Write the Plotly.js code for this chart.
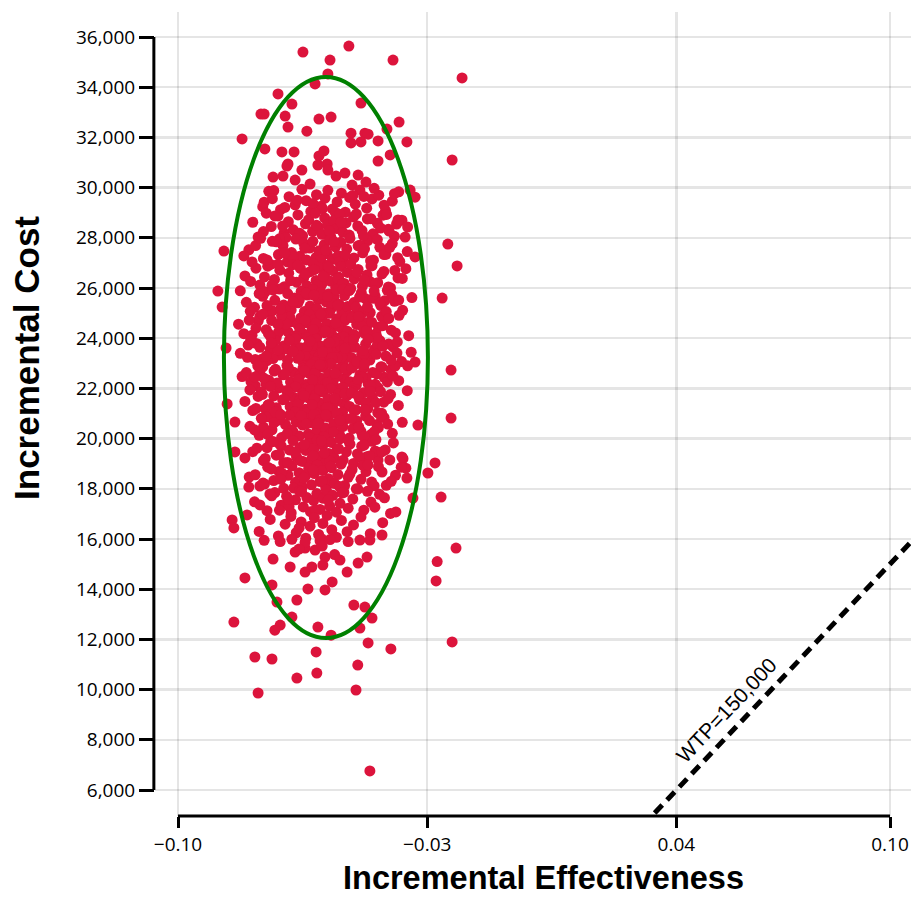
<!DOCTYPE html>
<html>
<head>
<meta charset="utf-8">
<script src="https://cdn.plot.ly/plotly-3.0.1.min.js"></script>
<style>html,body{margin:0;padding:0;background:#fff;}</style>
</head>
<body>
<div id="chart" style="width:911px;height:898px;"></div>
<script>
// ---------- axis ticks ----------
const xTickVals = [-0.10, -0.03, 0.04, 0.10];
const yTickVals = [6000, 8000, 10000, 12000, 14000, 16000, 18000, 20000, 22000, 24000, 26000, 28000, 30000, 32000, 34000, 36000];
const xTitle = 'Incremental Effectiveness';
const yTitle = 'Incremental Cost';

// ---------- willingness-to-pay line ----------
const wtp = 150000;
const wtpLabel = 'WTP=150,000';
const wtpEffect = [0.02, 0.12];

// ---------- confidence ellipse bounds ----------
const ellipseEffect = [-0.0871, -0.0298];
const ellipseCost = [12056, 34406];

// ---------- simulated ICER pairs ----------
// upper tail (cost >= ~29,600)
const effectUpper = [
-0.0520,-0.0649,-0.0573,-0.0396,-0.0579,-0.0202,-0.0615,-0.0719,-0.0486,-0.0680,
-0.0767,-0.0758,-0.0699,-0.0604,-0.0570,-0.0691,-0.0379,-0.0638,-0.0514,-0.0475,
-0.0466,-0.0413,-0.0820,-0.0357,-0.0438,-0.0514,-0.0486,-0.0756,-0.0708,-0.0674,
-0.0604,-0.0590,-0.0404,-0.0438,-0.0230,-0.0691,-0.0581,-0.0694,-0.0733,-0.0705,
-0.0671,-0.0607,-0.0579,-0.0556,-0.0531,-0.0494,-0.0472,-0.0652,-0.0629,-0.0511,
-0.0348,-0.0334];
const costUpper = [
35640,35400,35080,35080,34530,34370,34130,33730,33370,33330,
32930,32930,32850,32730,32810,32410,32610,32250,32170,32170,
32130,32330,31940,31820,31860,31780,31820,31540,31420,31420,
31260,31460,31300,31060,31100,30940,30940,30860,30420,30460,
30300,30900,30700,30460,30580,30500,30220,30700,30140,30100,
29900,29620];

// dense core, by cost band
const effectCore = [
// 29-30k
-0.0745,-0.0712,-0.0688,-0.0671,-0.0652,-0.0640,-0.0627,-0.0611,-0.0598,-0.0587,
-0.0579,-0.0566,-0.0553,-0.0541,-0.0530,-0.0518,-0.0502,-0.0489,-0.0470,-0.0455,
-0.0436,-0.0417,-0.0398,-0.0380,-0.0762,-0.0621,-0.0558,-0.0509,-0.0665,-0.0594,
// 28-29k
-0.0775,-0.0738,-0.0719,-0.0702,-0.0690,-0.0676,-0.0663,-0.0650,-0.0642,-0.0633,
-0.0622,-0.0614,-0.0605,-0.0596,-0.0588,-0.0580,-0.0571,-0.0563,-0.0554,-0.0546,
-0.0537,-0.0528,-0.0519,-0.0507,-0.0495,-0.0483,-0.0468,-0.0452,-0.0440,-0.0424,
-0.0409,-0.0392,-0.0371,-0.0355,-0.0697,-0.0611,-0.0575,-0.0542,-0.0499,-0.0658,
// 27-28k
-0.0801,-0.0760,-0.0735,-0.0718,-0.0705,-0.0693,-0.0681,-0.0669,-0.0658,-0.0647,
-0.0639,-0.0630,-0.0621,-0.0612,-0.0604,-0.0596,-0.0589,-0.0581,-0.0573,-0.0566,
-0.0558,-0.0550,-0.0543,-0.0535,-0.0526,-0.0517,-0.0506,-0.0494,-0.0481,-0.0467,
-0.0451,-0.0433,-0.0416,-0.0398,-0.0377,-0.0356,-0.0715,-0.0644,-0.0600,-0.0562,
-0.0531,-0.0489,-0.0677,-0.0585,-0.0547,
// 26-27k
-0.0812,-0.0770,-0.0748,-0.0729,-0.0714,-0.0701,-0.0689,-0.0678,-0.0667,-0.0656,
-0.0647,-0.0638,-0.0629,-0.0620,-0.0612,-0.0604,-0.0596,-0.0588,-0.0580,-0.0572,
-0.0565,-0.0557,-0.0549,-0.0541,-0.0533,-0.0524,-0.0515,-0.0505,-0.0494,-0.0482,
-0.0469,-0.0455,-0.0439,-0.0422,-0.0403,-0.0382,-0.0360,-0.0740,-0.0684,-0.0641,
-0.0608,-0.0577,-0.0551,-0.0527,-0.0498,-0.0460,-0.0663,-0.0592,-0.0538,-0.0617,
// 25-26k
-0.0825,-0.0785,-0.0762,-0.0744,-0.0728,-0.0715,-0.0703,-0.0692,-0.0682,-0.0672,
-0.0663,-0.0654,-0.0645,-0.0637,-0.0629,-0.0621,-0.0613,-0.0606,-0.0598,-0.0591,
-0.0584,-0.0577,-0.0569,-0.0562,-0.0555,-0.0547,-0.0540,-0.0532,-0.0524,-0.0515,
-0.0506,-0.0496,-0.0485,-0.0473,-0.0460,-0.0446,-0.0430,-0.0412,-0.0392,-0.0369,
-0.0343,-0.0755,-0.0698,-0.0659,-0.0626,-0.0595,-0.0566,-0.0536,-0.0501,-0.0452,
-0.0735,-0.0677,-0.0640,-0.0609,-0.0580,-0.0551,-0.0519,-0.0479,-0.0420,-0.0618,
// 24-25k
-0.0830,-0.0792,-0.0770,-0.0752,-0.0737,-0.0724,-0.0712,-0.0701,-0.0691,-0.0681,
-0.0672,-0.0663,-0.0655,-0.0647,-0.0639,-0.0631,-0.0624,-0.0617,-0.0610,-0.0603,
-0.0596,-0.0589,-0.0582,-0.0575,-0.0568,-0.0561,-0.0554,-0.0547,-0.0540,-0.0532,
-0.0524,-0.0516,-0.0507,-0.0498,-0.0488,-0.0477,-0.0465,-0.0452,-0.0437,-0.0420,
-0.0401,-0.0379,-0.0352,-0.0775,-0.0718,-0.0686,-0.0658,-0.0634,-0.0612,-0.0592,
-0.0571,-0.0550,-0.0528,-0.0503,-0.0471,-0.0428,-0.0746,-0.0696,-0.0667,-0.0643,
-0.0620,-0.0599,-0.0578,-0.0557,-0.0535,-0.0511,-0.0482,-0.0444,-0.0709,-0.0586,
// 23-24k
-0.0865,-0.0805,-0.0778,-0.0758,-0.0741,-0.0727,-0.0714,-0.0703,-0.0692,-0.0682,
-0.0673,-0.0664,-0.0656,-0.0648,-0.0640,-0.0633,-0.0626,-0.0619,-0.0612,-0.0605,
-0.0598,-0.0591,-0.0585,-0.0578,-0.0571,-0.0564,-0.0557,-0.0550,-0.0543,-0.0536,
-0.0528,-0.0520,-0.0512,-0.0503,-0.0494,-0.0484,-0.0473,-0.0461,-0.0448,-0.0433,
-0.0416,-0.0396,-0.0372,-0.0345,-0.0788,-0.0733,-0.0697,-0.0669,-0.0644,-0.0622,
-0.0601,-0.0581,-0.0561,-0.0540,-0.0517,-0.0489,-0.0455,-0.0408,-0.0765,-0.0719,
-0.0687,-0.0660,-0.0636,-0.0614,-0.0594,-0.0574,-0.0553,-0.0531,-0.0507,-0.0478,
-0.0440,-0.0750,-0.0677,-0.0629,-0.0567,
// 22-23k
-0.0820,-0.0783,-0.0762,-0.0745,-0.0730,-0.0717,-0.0705,-0.0694,-0.0684,-0.0675,
-0.0666,-0.0657,-0.0649,-0.0641,-0.0633,-0.0626,-0.0619,-0.0612,-0.0605,-0.0598,
-0.0591,-0.0584,-0.0577,-0.0570,-0.0563,-0.0556,-0.0549,-0.0541,-0.0533,-0.0525,
-0.0517,-0.0508,-0.0499,-0.0489,-0.0478,-0.0466,-0.0453,-0.0438,-0.0421,-0.0402,
-0.0380,-0.0355,-0.0233,-0.0770,-0.0722,-0.0690,-0.0662,-0.0638,-0.0616,-0.0595,
-0.0574,-0.0553,-0.0530,-0.0504,-0.0472,-0.0430,-0.0753,-0.0700,-0.0670,-0.0645,
-0.0622,-0.0601,-0.0580,-0.0559,-0.0537,-0.0512,-0.0483,-0.0446,-0.0390,-0.0795,
// 21-22k
-0.0862,-0.0790,-0.0766,-0.0747,-0.0731,-0.0718,-0.0706,-0.0695,-0.0685,-0.0676,
-0.0667,-0.0658,-0.0650,-0.0642,-0.0634,-0.0627,-0.0620,-0.0613,-0.0606,-0.0599,
-0.0592,-0.0585,-0.0578,-0.0571,-0.0564,-0.0557,-0.0550,-0.0542,-0.0534,-0.0526,
-0.0518,-0.0509,-0.0500,-0.0490,-0.0479,-0.0467,-0.0454,-0.0439,-0.0422,-0.0403,
-0.0381,-0.0356,-0.0775,-0.0724,-0.0691,-0.0663,-0.0639,-0.0617,-0.0596,-0.0575,
-0.0554,-0.0531,-0.0505,-0.0473,-0.0431,-0.0755,-0.0701,-0.0671,-0.0646,-0.0623,
-0.0602,-0.0581,-0.0560,-0.0538,-0.0513,
// 20-21k
-0.0798,-0.0772,-0.0752,-0.0736,-0.0722,-0.0709,-0.0698,-0.0687,-0.0677,-0.0668,
-0.0659,-0.0650,-0.0642,-0.0634,-0.0626,-0.0618,-0.0610,-0.0602,-0.0594,-0.0586,
-0.0578,-0.0570,-0.0562,-0.0554,-0.0546,-0.0537,-0.0528,-0.0519,-0.0509,-0.0498,
-0.0486,-0.0473,-0.0458,-0.0441,-0.0421,-0.0398,-0.0370,-0.0233,-0.0760,-0.0714,
-0.0681,-0.0654,-0.0630,-0.0607,-0.0585,-0.0563,-0.0540,-0.0514,-0.0482,-0.0437,
-0.0745,-0.0693,-0.0640,-0.0590,-0.0545,
// 19-20k
-0.0790,-0.0760,-0.0740,-0.0724,-0.0710,-0.0698,-0.0687,-0.0677,-0.0667,-0.0658,
-0.0649,-0.0641,-0.0633,-0.0625,-0.0617,-0.0609,-0.0601,-0.0593,-0.0585,-0.0577,
-0.0569,-0.0561,-0.0553,-0.0545,-0.0536,-0.0527,-0.0517,-0.0507,-0.0496,-0.0484,
-0.0470,-0.0455,-0.0438,-0.0418,-0.0395,-0.0368,-0.0750,-0.0703,-0.0671,-0.0645,
-0.0621,-0.0597,-0.0573,-0.0549,-0.0522,-0.0490,-0.0446,-0.0715,-0.0655,-0.0589,
// 18-19k
-0.0800,-0.0770,-0.0748,-0.0731,-0.0716,-0.0703,-0.0691,-0.0680,-0.0670,-0.0660,
-0.0651,-0.0642,-0.0633,-0.0625,-0.0617,-0.0609,-0.0601,-0.0593,-0.0585,-0.0577,
-0.0569,-0.0560,-0.0551,-0.0542,-0.0532,-0.0522,-0.0511,-0.0499,-0.0486,-0.0472,
-0.0456,-0.0437,-0.0415,-0.0389,-0.0360,-0.0757,-0.0709,-0.0675,-0.0646,-0.0620,
-0.0595,-0.0571,-0.0546,-0.0517,-0.0480,
// 17-18k
-0.0785,-0.0750,-0.0728,-0.0710,-0.0695,-0.0682,-0.0670,-0.0659,-0.0648,-0.0638,
-0.0628,-0.0619,-0.0610,-0.0601,-0.0592,-0.0583,-0.0574,-0.0565,-0.0555,-0.0545,
-0.0534,-0.0522,-0.0509,-0.0495,-0.0478,-0.0458,-0.0434,-0.0403,-0.0261,-0.0737,
-0.0688,-0.0653,-0.0614,-0.0578,-0.0539,
// 16-17k
-0.0848,-0.0843,-0.0772,-0.0741,-0.0718,-0.0699,-0.0683,-0.0668,-0.0654,-0.0641,
-0.0629,-0.0617,-0.0605,-0.0593,-0.0581,-0.0568,-0.0555,-0.0541,-0.0525,-0.0507,
-0.0486,-0.0460,-0.0425,-0.0660,-0.0597];
const costCore = [
// 29-30k
29850,29120,29640,29310,29930,29480,29050,29720,29260,29580,
29890,29150,29430,29780,29020,29610,29340,29900,29180,29550,
29700,29080,29460,29830,29240,29370,29010,29690,29500,29160,
// 28-29k
28030,28450,28870,28190,28640,28320,28910,28080,28560,28720,
28260,28980,28410,28140,28790,28530,28050,28680,28370,28940,
28220,28600,28110,28830,28470,28290,28750,28160,28580,28900,
28340,28060,28700,28430,28010,28500,28280,28620,28950,28180,
// 27-28k
27520,27180,27860,27330,27690,27040,27410,27950,27270,27780,
27120,27590,27860,27220,27480,27010,27730,27360,27910,27150,
27640,27290,27820,27070,27550,27980,27200,27680,27400,27890,
27110,27620,27340,27770,27060,27450,27960,27580,27130,27850,
27310,27700,27240,27500,27030,
// 26-27k
26480,26120,26870,26340,26710,26050,26590,26930,26230,26780,
26410,26090,26650,26960,26300,26820,26150,26540,26900,26270,
26690,26010,26440,26860,26180,26620,26950,26360,26740,26070,
26520,26890,26210,26660,26000,26400,26770,26940,26290,26560,
26130,26840,26380,26020,26610,26250,26910,26470,26170,26730,
// 25-26k
25890,25230,25670,25040,25510,25960,25320,25780,25120,25600,
25410,25870,25060,25720,25280,25940,25160,25540,25830,25010,
25450,25760,25190,25640,25930,25350,25080,25700,25260,25980,
25420,25140,25810,25570,25020,25680,25300,25910,25470,25110,
25620,25850,25200,25530,25000,25740,25380,25950,25240,25590,
25090,25460,25800,25170,25660,25310,25900,25050,25490,25710,
// 24-25k
24560,24120,24870,24340,24710,24030,24480,24920,24250,24660,
24090,24530,24810,24170,24620,24950,24300,24740,24060,24410,
24850,24220,24580,24990,24140,24470,24780,24010,24390,24700,
24280,24890,24150,24550,24830,24200,24640,24040,24450,24760,
24320,24910,24100,24680,24230,24840,24370,24020,24600,24940,
24260,24510,24790,24110,24430,24870,24190,24570,24070,24720,
24350,24960,24240,24610,24050,24820,24460,24180,24900,24290,
// 23-24k
23610,23240,23780,23050,23560,23910,23330,23690,23120,23470,
23850,23200,23620,23010,23380,23740,23150,23530,23960,23270,
23680,23080,23420,23800,23180,23590,23930,23310,23700,23040,
23490,23870,23220,23640,23000,23360,23760,23130,23550,23900,
23290,23660,23070,23440,23820,23190,23580,23980,23340,23710,
23100,23500,23860,23250,23630,23020,23400,23770,23160,23540,
23920,23300,23670,23060,23450,23830,23210,23600,23950,23350,
23720,23110,23480,23880,23230,
// 22-23k
22470,22110,22860,22330,22690,22020,22540,22910,22260,22640,
22080,22520,22800,22160,22610,22940,22290,22730,22050,22400,
22840,22210,22570,22980,22130,22460,22770,22000,22380,22690,
22270,22880,22140,22540,22820,22190,22630,22030,22440,22750,
22310,22900,22730,22670,22220,22830,22360,22010,22590,22930,
22250,22500,22780,22100,22420,22860,22180,22560,22060,22710,
22340,22950,22230,22600,22040,22810,22450,22170,22890,22280,
// 21-22k
21380,21120,21850,21340,21700,21030,21550,21920,21270,21650,
21090,21530,21810,21170,21620,21950,21300,21740,21060,21410,
21850,21220,21580,21990,21140,21470,21780,21010,21390,21700,
21280,21890,21150,21550,21830,21200,21640,21040,21450,21760,
21320,21910,21680,21230,21840,21370,21020,21600,21940,21260,
21510,21790,21110,21430,21870,21190,21570,21070,21720,21350,
21960,21240,21610,21050,21820,
// 20-21k
20490,20130,20870,20350,20720,20040,20560,20930,20280,20660,
20100,20540,20810,20180,20630,20960,20310,20750,20070,20420,
20860,20230,20590,20990,20150,20480,20790,20020,20400,20710,
20290,20900,20160,20560,20840,20210,20650,20820,20460,20770,
20330,20920,20050,20610,20950,20270,20520,20800,20120,20440,
20880,20200,20580,20080,20730,
// 19-20k
19480,19120,19860,19340,19710,19030,19550,19920,19270,19650,
19090,19530,19800,19170,19620,19950,19300,19740,19060,19410,
19850,19220,19580,19990,19140,19470,19780,19010,19390,19700,
19280,19890,19150,19550,19830,19200,19640,19040,19450,19760,
19320,19910,19100,19600,19940,19260,19510,19790,19110,19430,
// 18-19k
18470,18110,18860,18330,18690,18020,18540,18910,18260,18640,
18080,18520,18800,18160,18610,18940,18290,18730,18050,18400,
18840,18210,18570,18980,18130,18460,18770,18000,18380,18690,
18270,18880,18140,18540,18820,18190,18630,18030,18440,18750,
18310,18900,18090,18590,18930,
// 17-18k
17480,17130,17850,17350,17700,17040,17560,17910,17280,17650,
17090,17530,17810,17180,17620,17950,17310,17740,17070,17420,
17860,17230,17590,17990,17150,17470,17780,17020,17670,17720,
17300,17890,17160,17560,17830,
// 16-17k
16760,16440,16300,16780,16120,16590,16900,16250,16680,16030,
16510,16850,16180,16620,16940,16370,16070,16740,16290,16560,
16880,16210,16650,16430,16010];

// flanks of the core (left and right shoulders), by cost band
const effectFlank = [
// 29-30k
-0.0758,-0.0731,-0.0700,-0.0478,-0.0449,-0.0421,-0.0392,-0.0735,
// 28-29k
-0.0790,-0.0760,-0.0728,-0.0706,-0.0479,-0.0458,-0.0431,-0.0414,-0.0386,-0.0752,
// 27-28k
-0.0815,-0.0782,-0.0750,-0.0724,-0.0700,-0.0476,-0.0459,-0.0440,-0.0421,-0.0405,-0.0383,-0.0768,
// 26-27k
-0.0796,-0.0781,-0.0757,-0.0736,-0.0719,-0.0477,-0.0458,-0.0445,-0.0427,-0.0409,-0.0391,-0.0370,
// 25-26k
-0.0808,-0.0797,-0.0772,-0.0750,-0.0733,-0.0712,-0.0490,-0.0468,-0.0449,-0.0433,-0.0415,-0.0399,-0.0380,
// 24-25k
-0.0815,-0.0800,-0.0781,-0.0762,-0.0741,-0.0720,-0.0493,-0.0470,-0.0456,-0.0441,-0.0425,-0.0408,-0.0389,
// 23-24k
-0.0825,-0.0796,-0.0783,-0.0770,-0.0752,-0.0738,-0.0498,-0.0479,-0.0466,-0.0443,-0.0425,-0.0402,-0.0384,
// 22-23k
-0.0808,-0.0791,-0.0776,-0.0759,-0.0740,-0.0726,-0.0494,-0.0476,-0.0459,-0.0442,-0.0427,-0.0412,-0.0396,
// 21-22k
-0.0812,-0.0798,-0.0781,-0.0763,-0.0744,-0.0727,-0.0494,-0.0475,-0.0460,-0.0444,-0.0428,-0.0410,
// 20-21k
-0.0785,-0.0766,-0.0748,-0.0730,-0.0712,-0.0492,-0.0478,-0.0462,-0.0449,-0.0430,-0.0411,
// 19-20k
-0.0778,-0.0755,-0.0733,-0.0715,-0.0692,-0.0477,-0.0462,-0.0444,-0.0428,-0.0405,
// 18-19k
-0.0783,-0.0761,-0.0738,-0.0711,-0.0466,-0.0449,-0.0427,-0.0401,-0.0373,
// 17-18k
-0.0770,-0.0742,-0.0715,-0.0690,-0.0468,-0.0447,-0.0420,-0.0388];
const costFlank = [
// 29-30k
29420,29880,29210,29650,29970,29300,29760,29560,
// 28-29k
28620,28250,28870,28470,28090,28760,28390,28930,28550,28980,
// 27-28k
27280,27690,27120,27840,27400,27560,27090,27930,27330,27620,27210,27980,
// 26-27k
26260,26790,26440,26110,26950,26330,26880,26160,26560,26040,26700,26380,
// 25-26k
25430,25070,25780,25300,25920,25160,25640,25250,25880,25400,25060,25730,25520,
// 24-25k
24180,24720,24400,24950,24080,24560,24860,24310,24640,24030,24500,24790,24210,
// 23-24k
23400,23930,23150,23640,23290,23810,23070,23520,23960,23360,23680,23130,23850,
// 22-23k
22630,22200,22900,22410,22080,22760,22350,22970,22120,22580,22850,22260,22490,
// 21-22k
21480,21940,21200,21760,21360,21060,21690,21150,21880,21430,21010,21590,
// 20-21k
20350,20810,20170,20640,20960,20460,20090,20720,20270,20900,20580,
// 19-20k
19620,19210,19880,19370,19050,19740,19310,19960,19470,19150,
// 18-19k
18560,18230,18790,18380,18950,18120,18670,18300,18860,
// 17-18k
17360,17790,17150,17580,17900,17270,17640,17080];

// scattered edge points of the core
const effectEdge = [
-0.0382,-0.0407,-0.0362,-0.0871,-0.0242,-0.0334,-0.0792,-0.0216,-0.0888,-0.0876,
-0.0258,-0.0803,-0.0385,-0.0334,-0.0784,-0.0840,-0.0326,-0.0840,-0.0812,-0.0371,
-0.0278,-0.0357,-0.0298,-0.0801,-0.0340,-0.0806];
const costEdge = [
28710,28270,28030,27470,27750,27240,27040,26880,25880,25240,
25600,23730,23410,23050,22450,20660,20540,19470,19230,19270,
19030,18430,18630,18070,17630,16960];

// lower tail (cost < ~16,200)
const effectLower = [
-0.0489,-0.0461,-0.0219,-0.0643,-0.0615,-0.0671,-0.0469,-0.0587,-0.0733,-0.0545,
-0.0272,-0.0494,-0.0593,-0.0685,-0.0624,-0.0643,-0.0525,-0.0812,-0.0275,-0.0567,
-0.0736,-0.0635,-0.0587,-0.0666,-0.0722,-0.0506,-0.0475,-0.0680,-0.0455,-0.0843,
-0.0713,-0.0607,-0.0489,-0.0728,-0.0570,-0.0230,-0.0466,-0.0402,-0.0612,-0.0784,
-0.0736,-0.0495,-0.0666,-0.0610,-0.0775,-0.0500,-0.0461,-0.0758,-0.0713,-0.0680,
-0.0643,-0.0601,-0.0573,-0.0522,-0.0427,-0.0660,-0.0595,-0.0560];
const costLower = [
15960,15960,15640,15640,15560,15480,15280,15280,15200,15160,
15100,15040,14960,14885,14885,14685,14685,14450,14330,14290,
14170,14010,13970,13570,13490,13370,13290,12890,12850,12690,
12570,12490,12450,12370,12170,11900,11860,11620,11500,11300,
11220,10980,10460,10660,9865,9985,6760,15950,15900,15990,
15870,15930,15980,15900,16160,15600,15720,15380];

// ---------- build ----------
const effect = [].concat(effectUpper, effectCore, effectFlank, effectEdge, effectLower);
const cost = [].concat(costUpper, costCore, costFlank, costEdge, costLower);
if (effect.length !== cost.length) console.warn('length mismatch', effect.length, cost.length);

const traces = [
  {
    type: 'scatter', mode: 'markers',
    x: effect, y: cost,
    marker: {color: '#DC143C', size: 11, line: {width: 0}},
    hoverinfo: 'skip', showlegend: false
  },
  {
    type: 'scatter', mode: 'lines',
    x: wtpEffect, y: wtpEffect.map(e => e * wtp),
    line: {color: '#000', width: 5, dash: '11px,7px'},
    hoverinfo: 'skip', showlegend: false
  }
];

const tickFont = {family: '"Open Sans", sans-serif', size: 19, color: '#000'};
const gridColor = 'rgba(0,0,0,0.1)';
const titleFamily = '"Liberation Sans", Arial, sans-serif';

const layout = {
  width: 911, height: 898, autosize: false,
  margin: {l: 155, r: 0, t: 12, b: 82, pad: 0},
  paper_bgcolor: '#fff', plot_bgcolor: '#fff',
  showlegend: false,
  xaxis: {
    range: [-0.10646, 0.10590], tickmode: 'array', tickvals: xTickVals, tickformat: '.2f',
    ticks: 'outside', ticklen: 11, tickwidth: 3, tickcolor: '#000',
    showline: false, zeroline: false, showgrid: true, gridcolor: gridColor, gridwidth: 2.5,
    tickfont: tickFont, fixedrange: true
  },
  yaxis: {
    range: [4965, 36996], tickmode: 'array', tickvals: yTickVals, tickformat: ',.0f',
    ticks: 'outside', ticklen: 15, tickwidth: 3, tickcolor: '#000',
    showline: false, zeroline: false, showgrid: true, gridcolor: gridColor, gridwidth: 2.5,
    tickfont: tickFont, fixedrange: true
  },
  shapes: [
    {type: 'circle', xref: 'x', yref: 'y', layer: 'above',
     x0: ellipseEffect[0], x1: ellipseEffect[1], y0: ellipseCost[0], y1: ellipseCost[1],
     line: {color: '#008000', width: 4}, fillcolor: 'rgba(0,0,0,0)'},
    {type: 'line', xref: 'x', yref: 'paper', layer: 'above',
     x0: xTickVals[0], x1: xTickVals[xTickVals.length - 1], y0: 0, y1: 0,
     line: {color: '#000', width: 3}},
    {type: 'line', xref: 'paper', yref: 'y', layer: 'above',
     x0: -0.0015, x1: -0.0015, y0: yTickVals[0], y1: yTickVals[yTickVals.length - 1],
     line: {color: '#000', width: 3}}
  ],
  annotations: [
    {text: xTitle, xref: 'paper', yref: 'paper', x: 0.5139, y: -0.1002,
     xanchor: 'center', yanchor: 'bottom', showarrow: false, borderpad: 0,
     font: {family: titleFamily, size: 32.5, weight: 'bold', color: '#000'}},
    {text: yTitle, xref: 'paper', yref: 'paper', x: -0.170, y: 0.5703, textangle: -90,
     xanchor: 'center', yanchor: 'middle', showarrow: false,
     font: {family: titleFamily, size: 35, weight: 'bold', color: '#000'}},
    {text: wtpLabel, xref: 'x', yref: 'y', x: 0.0542, y: 9190, textangle: -46.6,
     xanchor: 'center', yanchor: 'middle', showarrow: false,
     font: {family: titleFamily, size: 21, color: '#000'}}
  ]
};

Plotly.newPlot('chart', traces, layout, {staticPlot: true, displayModeBar: false});
</script>
</body>
</html>
